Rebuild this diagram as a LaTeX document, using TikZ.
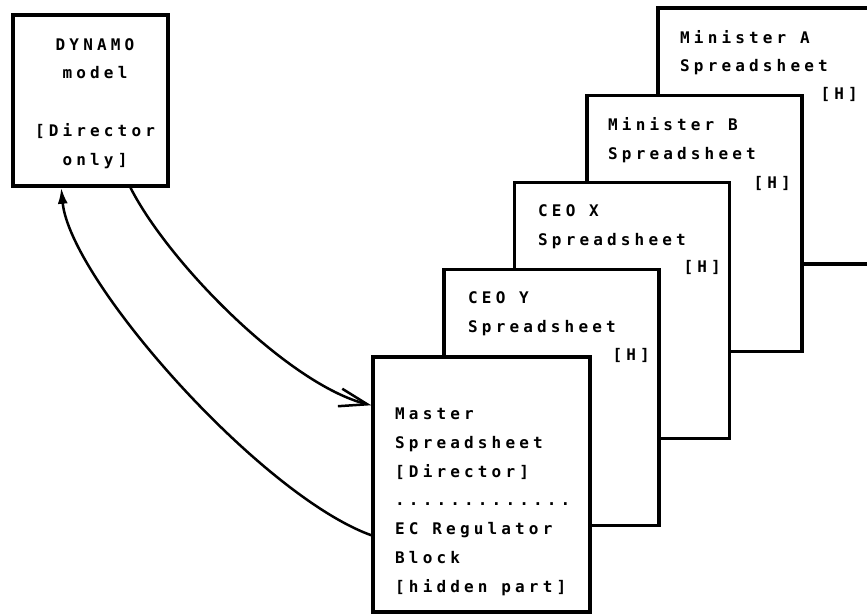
\documentclass[tikz,border=0pt]{standalone}
\usepackage{fontspec}
\newfontfamily\sheetfont{DejaVu Sans Mono Bold}[LetterSpace=26]
\usetikzlibrary{arrows.meta,calc}

\tikzset{
  sheet/.style={draw, line width=3.5pt, fill=white, minimum width=215, minimum height=256, inner sep=0pt},
  sheettext/.style={font=\sheetfont\fontsize{16}{28.7}\selectfont, inner sep=0pt, align=left},
  link/.style={line width=2.5pt},
}

\begin{document}
\begin{tikzpicture}[x=1pt, y=-1pt]
    \useasboundingbox (0,0) rectangle (867,615);
    \clip (0,0) rectangle (867,615);

    % DYNAMO model
    \node[sheet, minimum width=155, minimum height=171] (dyn) at (90.5,100.5) {};
    \node[sheettext, align=center, anchor=base] (dyntext) at (95,165) {DYNAMO\\model\\[28.7pt]{}[Director\\only]};

    % Spreadsheets, back to front
    \node[sheet] (mina) at (765.5,136) {};
    \node[sheettext, anchor=base west] (minatext) at (680,72) {Minister A\\Spreadsheet};
    \node[sheettext, anchor=base east] (minah) at (858,100) {[H]};

    \node[sheet] (minb) at (694.5,223.5) {};
    \node[sheettext, anchor=base west] (minbtext) at (608,159) {Minister B\\Spreadsheet};
    \node[sheettext, anchor=base east] (minbh) at (791,188) {[H]};

    \node[sheet] (ceox) at (622,310.5) {};
    \node[sheettext, anchor=base west] (ceoxtext) at (538,245) {CEO X\\Spreadsheet};
    \node[sheettext, anchor=base east] (ceoxh) at (721,272) {[H]};

    \node[sheet] (ceoy) at (551.5,397.5) {};
    \node[sheettext, anchor=base west] (ceoytext) at (468,332) {CEO Y\\Spreadsheet};
    \node[sheettext, anchor=base east] (ceoyh) at (650,360) {[H]};

    \node[sheet, minimum width=217, minimum height=255] (master) at (481.5,484.5) {};
    \node[sheettext, anchor=base west] (mastertext) at (395,592) {Master\\Spreadsheet\\{}[Director]\\.............\\EC Regulator\\Block\\{}[hidden part]};

    % Verbindungen
    \draw[link, -{Straight Barb[length=28pt,width=18pt]}] ($(dyn.south)+(40,0)$) .. controls (170,265) and (290,385) .. ($(master.north west)+(0,50)$);
    \draw[link, -{Latex[length=16pt,width=10pt]}] ($(master.north west)+(0,180)$) .. controls (260,495) and (70,280) .. ($(dyn.south west)+(50,0)$);
\end{tikzpicture}
\end{document}
